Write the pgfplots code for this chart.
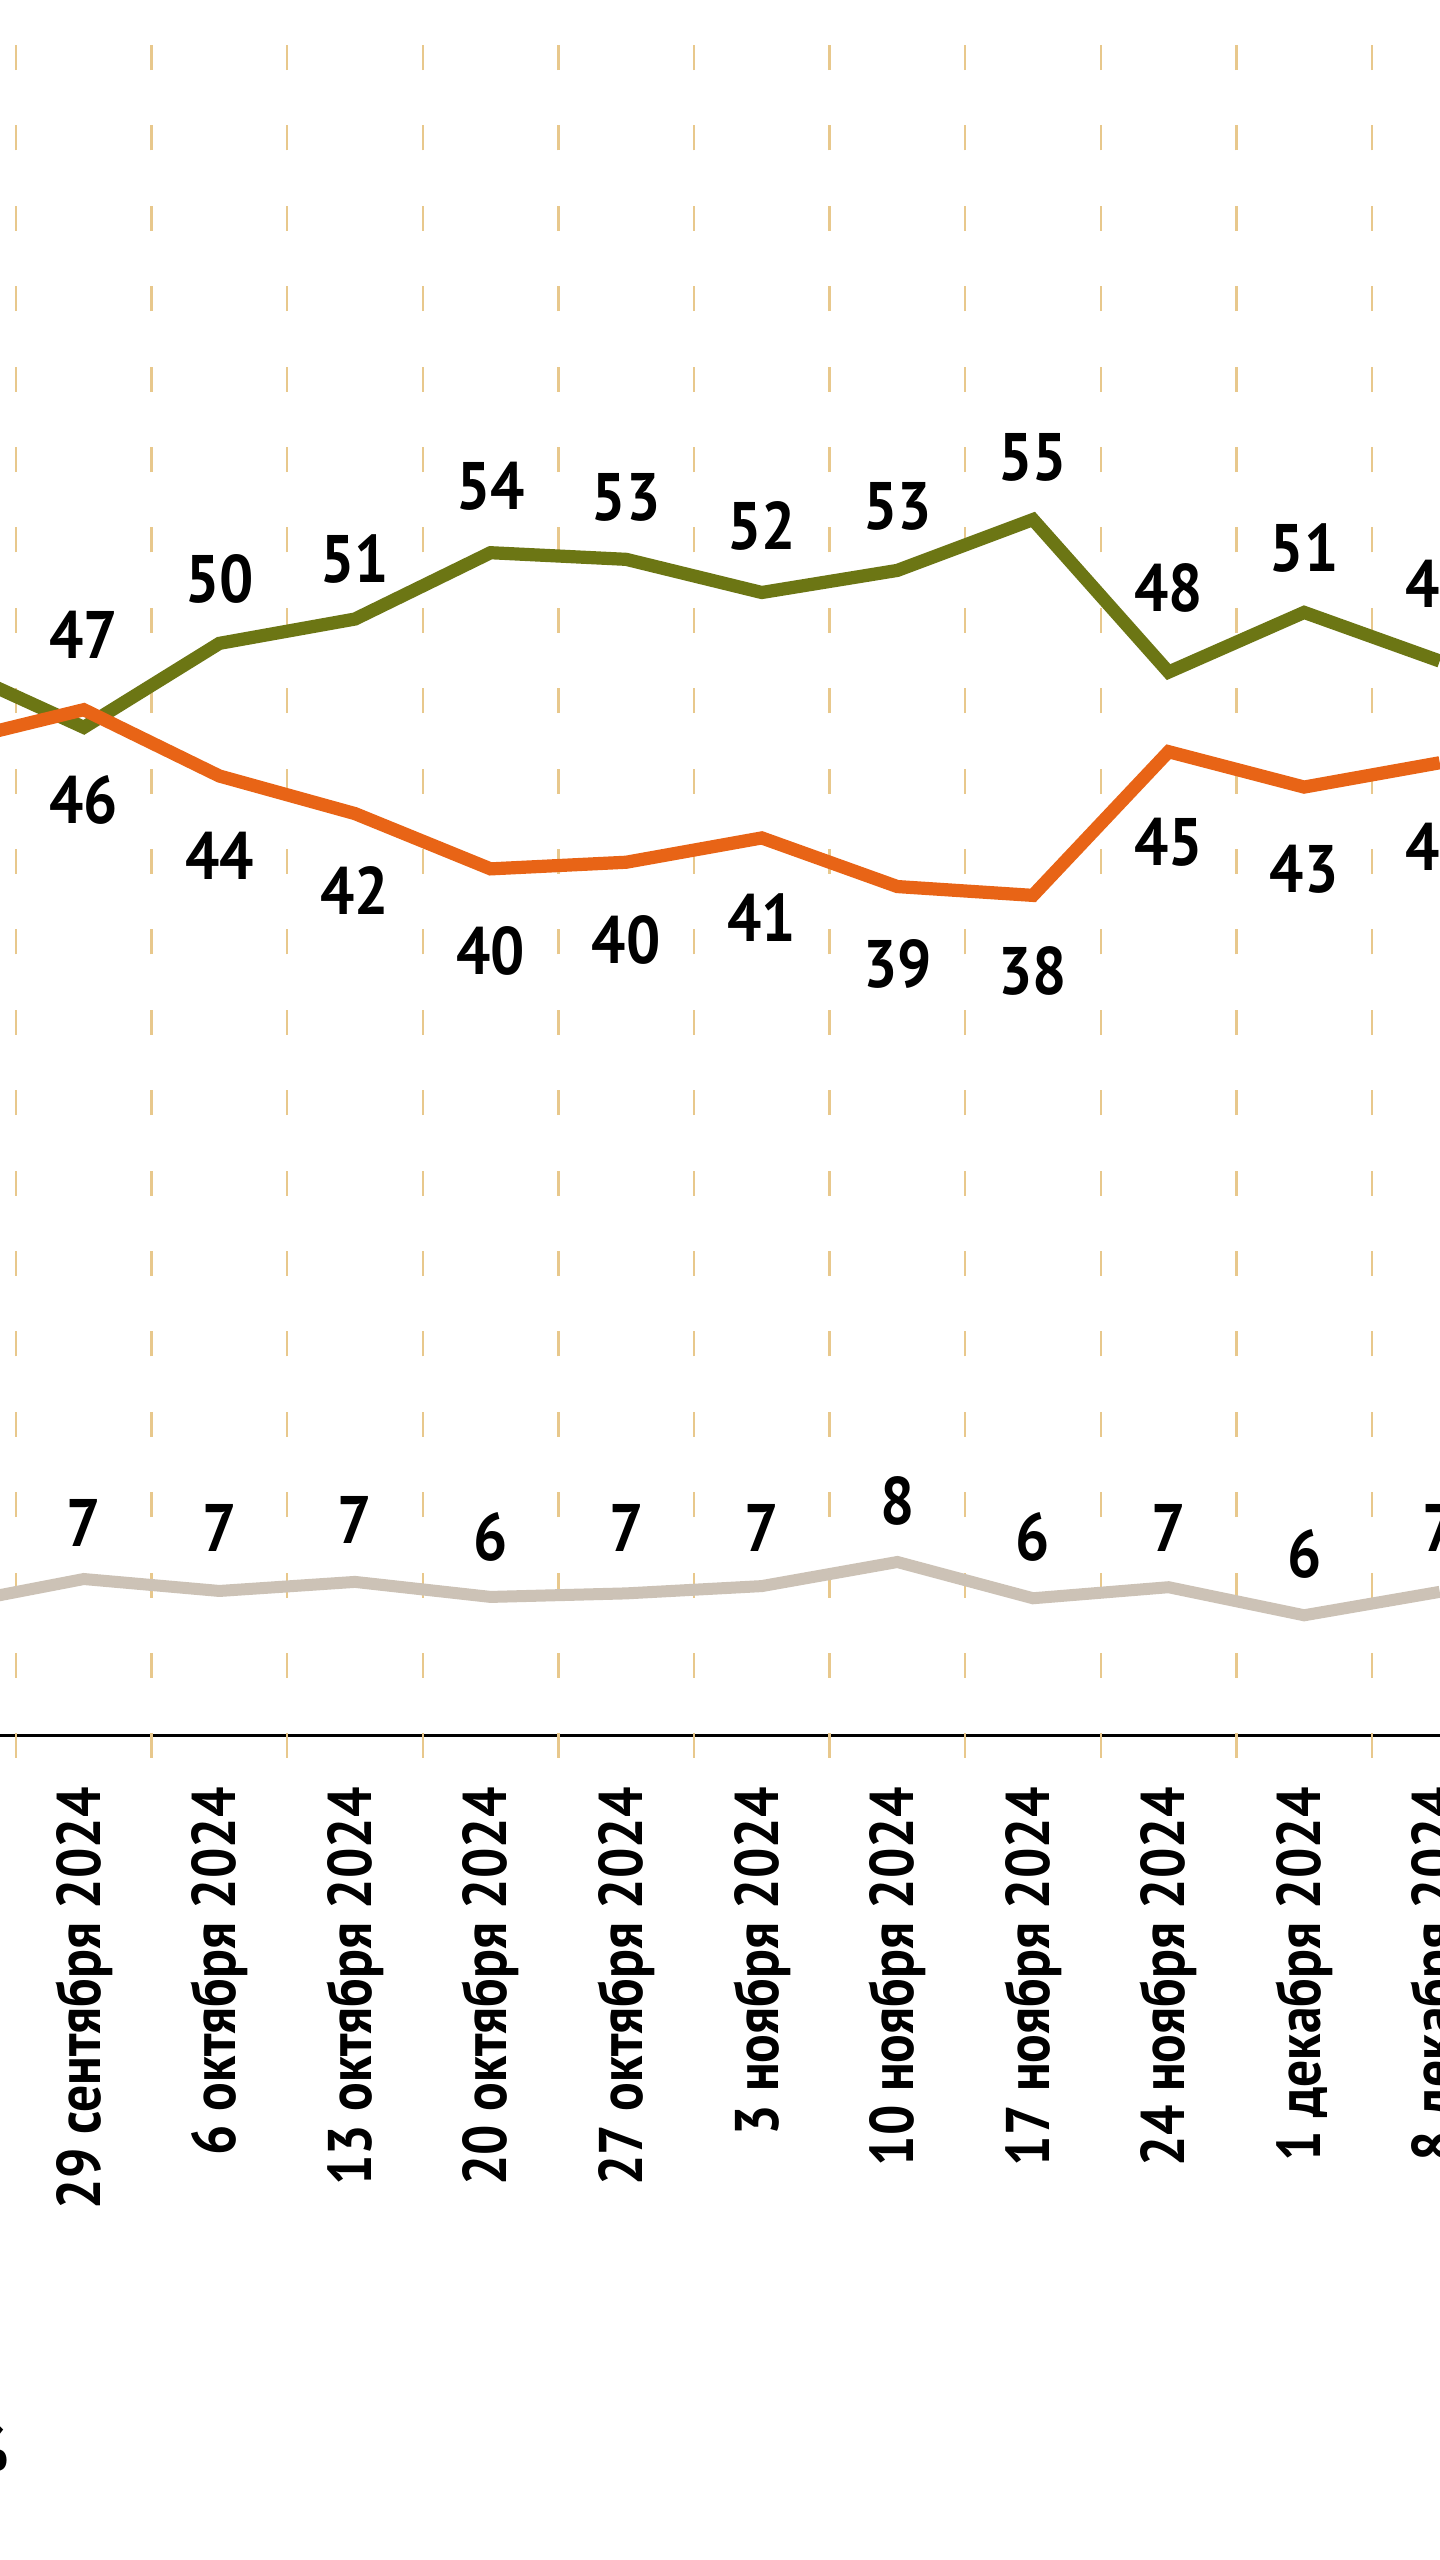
\documentclass[border=0pt]{standalone}
\usepackage{fontspec}
\setmainfont{PT Sans}
\newfontfamily\numfont{PT Sans}[FakeStretch=0.9]
\newfontfamily\datefont{PT Sans}[FakeStretch=0.87]
\usepackage{pgfplots}
\usepackage{pgfplotstable}
\pgfplotsset{compat=1.18}
\usetikzlibrary{backgrounds}

\definecolor{cgreen}{RGB}{108,118,20}
\definecolor{corange}{RGB}{232,100,22}
\definecolor{cgray}{RGB}{204,194,182}
\definecolor{cgrid}{RGB}{232,200,140}

\pgfplotstableread{
x   g     o     s
0   48.4  44.9  5.9
1   45.6  46.4  7.08
2   49.4  43.4  6.54
3   50.5  41.7  6.95
4   53.5  39.2  6.27
5   53.2  39.5  6.43
6   51.7  40.6  6.76
7   52.7  38.4  7.85
8   55.0  38.0  6.21
9   48.1  44.5  6.71
10  50.8  42.9  5.44
11  48.6  44.0  6.5
}\lines

\pgfplotstableread{
x  gv gy   ov oy   sv sy
1  47 49.8 46 42.3 7 9.6
2  50 52.3 44 39.8 7 9.4
3  51 53.2 42 38.2 7 9.75
4  54 56.5 40 35.5 6 9.0
5  53 56.0 40 36.0 7 9.4
6  52 54.7 41 37.0 7 9.4
7  53 55.6 39 34.9 8 10.6
8  55 57.8 38 34.6 6 9.0
9  48 51.9 45 40.4 7 9.4
10 51 53.7 43 39.2 6 8.2
11 49 52.1 44 40.2 7 9.4
}\labels

\begin{document}
\begin{tikzpicture}
\begin{axis}[
  x=33.9bp, y=5.5275bp,
  xmin=0.382, xmax=11, ymin=0, ymax=78.5,
  axis x line*=bottom, axis y line=none,
  axis line style={black, line width=0.8bp},
  xtick={0,...,11},
  xticklabels={22 сентября 2024, 29 сентября 2024, 6 октября 2024, 13 октября 2024, 20 октября 2024, 27 октября 2024, 3 ноября 2024, 10 ноября 2024, 17 ноября 2024, 24 ноября 2024, 1 декабря 2024, 8 декабря 2024},
  x tick style={draw=none},
  xticklabel shift=7.3bp,
  xticklabel style={rotate=90, anchor=east, inner sep=0pt, font=\datefont\fontsize{15.4bp}{16bp}\selectfont\bfseries},
  extra x ticks={0.5,1.5,...,10.5},
  extra x tick labels={},
  extra x tick style={grid=major, x tick style={draw=cgrid, line width=0.6bp}},
  major grid style={cgrid, line width=0.6bp, dash pattern=on 6.25bp off 13.85bp, dash phase=5.7bp},
  tick align=outside, major tick length=5.5bp,
  ytick=\empty,
  every node near coord/.append style={anchor=center, inner sep=0pt, text=black, font=\numfont\fontsize{16.8bp}{18bp}\selectfont\bfseries},
]
\addplot[cgray, line width=3bp] table[x=x,y=s]{\lines};
\addplot[cgreen, line width=3.3bp] table[x=x,y=g]{\lines};
\addplot[corange, line width=3.3bp] table[x=x,y=o]{\lines};
\addplot[draw=none, mark=none, nodes near coords, point meta=explicit symbolic] table[x=x, y=gy, meta=gv]{\labels};
\addplot[draw=none, mark=none, nodes near coords, point meta=explicit symbolic] table[x=x, y=oy, meta=ov]{\labels};
\addplot[draw=none, mark=none, nodes near coords, point meta=explicit symbolic] table[x=x, y=sy, meta=sv]{\labels};
\coordinate (bl) at (axis cs:0.382,-37.29);
\coordinate (tr) at (axis cs:11,78.5);
\coordinate (pct) at (axis cs:0.4557,-33.3);
\end{axis}
\node[anchor=base east, inner sep=0pt, font=\numfont\fontsize{16bp}{18bp}\selectfont\bfseries] at (pct) {\%};
\begin{pgfonlayer}{background}
\fill[white] (bl) rectangle (tr);
\end{pgfonlayer}
\pgfresetboundingbox
\useasboundingbox (bl) rectangle (tr);
\end{tikzpicture}
\end{document}
